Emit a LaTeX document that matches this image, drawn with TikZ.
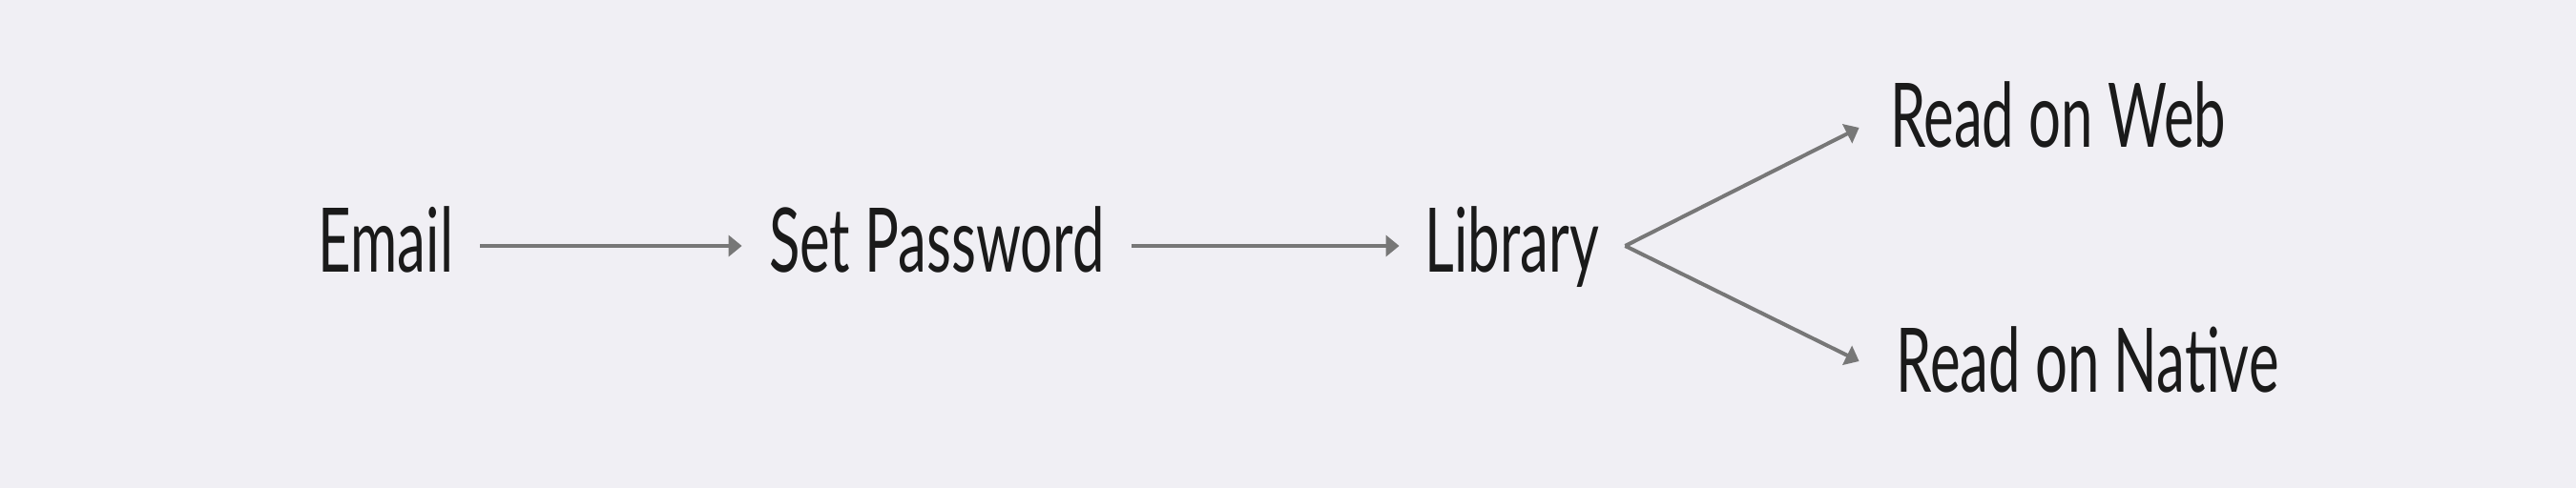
\documentclass[tikz,border=0pt]{standalone}
\usepackage{fontspec}
\setmainfont[FakeStretch=0.64]{Lato}
\usepackage{tikz}
\usetikzlibrary{
	positioning,
	arrows.meta
}
\definecolor{pagebg}{HTML}{F0EFF4}
\definecolor{flowgrey}{HTML}{777777}
\definecolor{labelink}{HTML}{1A1A1A}
\tikzset{
	screen/.style={
		inner sep=0pt,
		text height=33.5pt,
		text depth=5.5pt,
		text=labelink,
		font=\fontsize{46.75}{50}\selectfont
	},
	every edge/.append style={
		-{Triangle[length=7pt,width=11pt]},
		draw=flowgrey,
		line width=2pt
	}
}

\begin{document}
\begin{tikzpicture}[x=1pt,y=1pt]
		\fill[pagebg] (0,0) rectangle (1350,256);
		\useasboundingbox (0,0) rectangle (1350,256);
		\draw
			node[screen,minimum width=98.5pt] (email)  at (202.25,127) {Email}
			node[screen,minimum width=204pt]  (pw)     at (491,127)    {Set Password}
			node[screen,minimum width=118pt]  (lib)    at (792.5,127)  {Library}
			node[screen,minimum width=208pt]  (web)    at (1078.5,192.5) {Read on Web}
			node[screen,minimum width=239pt]  (native) at (1094,64)    {Read on Native}

			(email)    edge (pw)
			(pw)       edge (lib)
			(lib.east) edge ([yshift=-3.5pt]web.west)
			(lib.east) edge ([yshift=2.5pt]native.west)
		;
	\end{tikzpicture}
\end{document}
